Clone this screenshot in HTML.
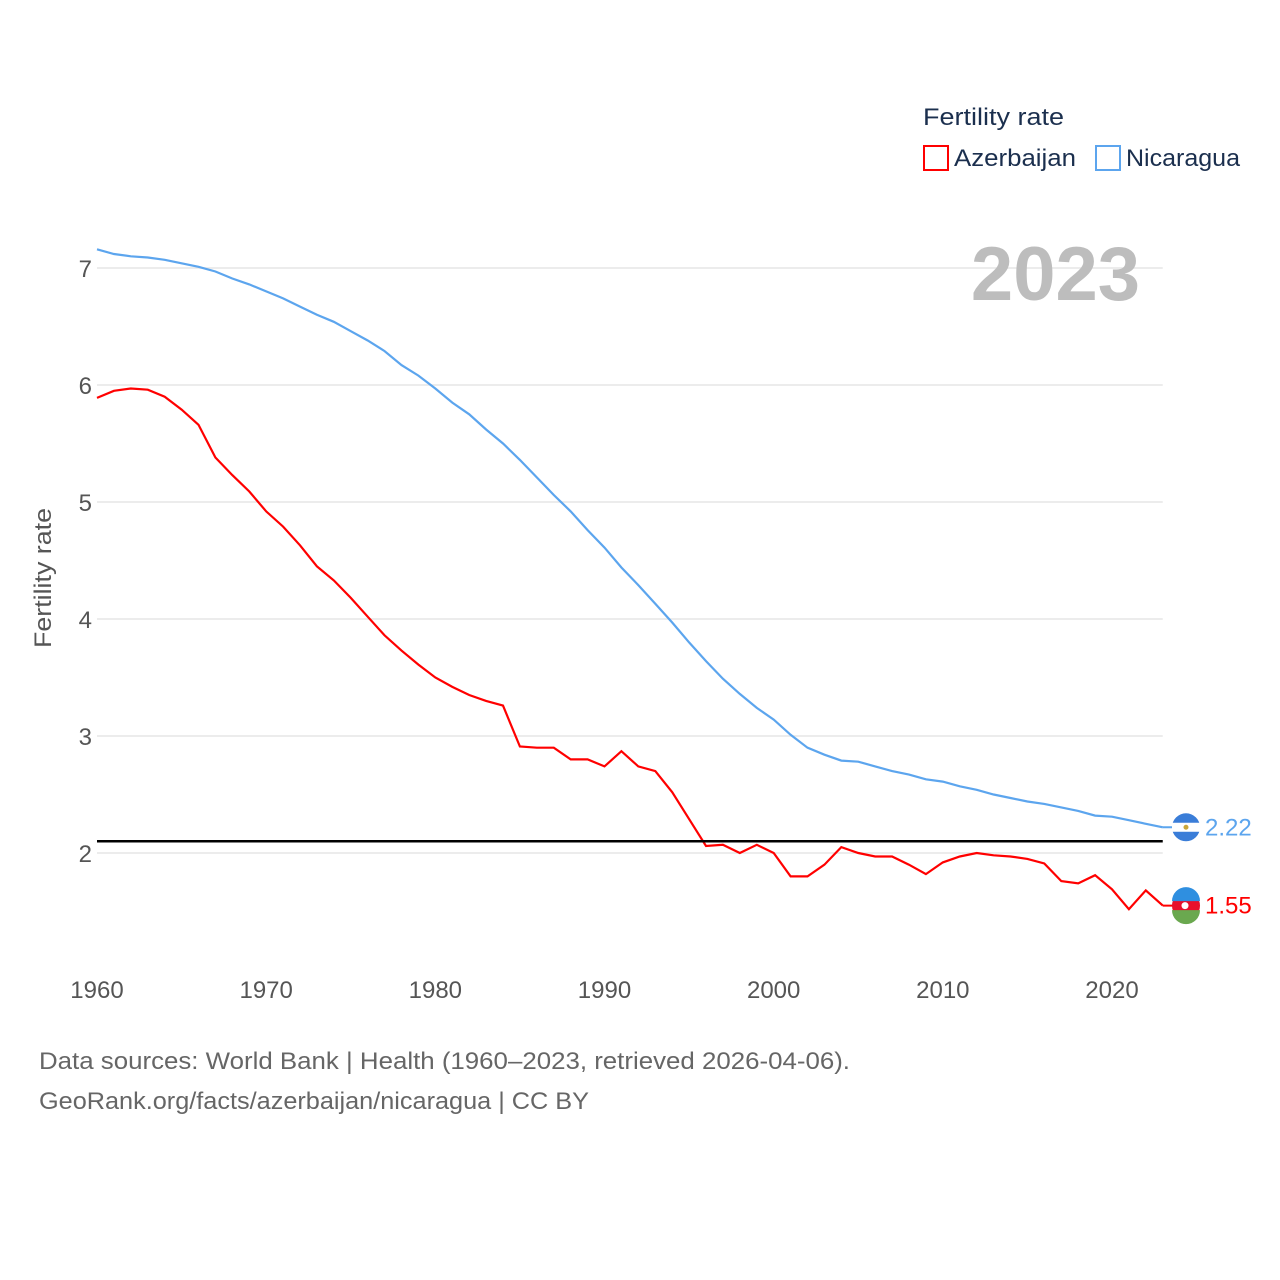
<!DOCTYPE html>
<html><head><meta charset="utf-8"><style>
html,body{margin:0;padding:0;background:#fff;}
svg{display:block;font-family:"Liberation Sans",sans-serif;}
</style></head><body>
<svg id="chart" width="1280" height="1280" viewBox="0 0 1280 1280">
<g id="grid"></g>
<g id="yticks"></g>
<g id="xticks"></g>
<text transform="translate(51,578) rotate(-90)" text-anchor="middle" font-size="24" fill="#555" textLength="140" lengthAdjust="spacingAndGlyphs">Fertility rate</text>
<text x="1140" y="300" text-anchor="end" font-size="76" font-weight="bold" fill="#bdbdbd">2023</text>
<g id="series"></g>
<line id="refline" stroke="#000" stroke-width="2.5"/>
<g>
<text x="923" y="125" font-size="24" fill="#1b2f4e" textLength="141" lengthAdjust="spacingAndGlyphs">Fertility rate</text>
<g><rect x="924" y="146" width="24" height="24" fill="none" stroke="#ff0000" stroke-width="2"/><text x="954" y="166" font-size="24" fill="#1b2f4e" textLength="122" lengthAdjust="spacingAndGlyphs">Azerbaijan</text></g>
<g><rect x="1096" y="146" width="24" height="24" fill="none" stroke="#5ca5ee" stroke-width="2"/><text x="1126" y="166" font-size="24" fill="#1b2f4e" textLength="114" lengthAdjust="spacingAndGlyphs">Nicaragua</text></g>
</g>
<g id="ends"></g>
<text x="39" y="1069" font-size="24" fill="#666" textLength="811" lengthAdjust="spacingAndGlyphs">Data sources: World Bank | Health (1960–2023, retrieved 2026-04-06).</text>
<text x="39" y="1109" font-size="24" fill="#666" textLength="550" lengthAdjust="spacingAndGlyphs">GeoRank.org/facts/azerbaijan/nicaragua | CC BY</text>
</svg>
<script>
const years = [];
for (let y = 1960; y <= 2023; y++) years.push(y);
const nicaragua = [7.16,7.12,7.10,7.09,7.07,7.04,7.01,6.97,6.91,6.86,6.80,6.74,6.67,6.60,6.54,6.46,6.38,6.29,6.17,6.08,5.97,5.85,5.75,5.62,5.50,5.36,5.21,5.06,4.92,4.76,4.61,4.44,4.29,4.13,3.97,3.80,3.64,3.49,3.36,3.24,3.14,3.01,2.90,2.84,2.79,2.78,2.74,2.70,2.67,2.63,2.61,2.57,2.54,2.50,2.47,2.44,2.42,2.39,2.36,2.32,2.31,2.28,2.25,2.22];
const azerbaijan = [5.89,5.95,5.97,5.96,5.90,5.79,5.66,5.38,5.23,5.09,4.92,4.79,4.63,4.45,4.33,4.18,4.02,3.86,3.73,3.61,3.50,3.42,3.35,3.30,3.26,2.91,2.90,2.90,2.80,2.80,2.74,2.87,2.74,2.70,2.52,2.29,2.06,2.07,2.00,2.07,2.00,1.80,1.80,1.90,2.05,2.00,1.97,1.97,1.90,1.82,1.92,1.97,2.00,1.98,1.97,1.95,1.91,1.76,1.74,1.81,1.69,1.52,1.68,1.55];
const yTicks = [2,3,4,5,6,7];
const xTicks = [1960,1970,1980,1990,2000,2010,2020];
const replacementRate = 2.1;

const NS = "http://www.w3.org/2000/svg";
const X0 = 97, X1 = 1162.75, Y0v = 2, Y0p = 853, PPU = 117;
const xs = y => X0 + (y - 1960) * (X1 - X0) / 63;
const ys = v => Y0p - (v - Y0v) * PPU;
function mk(tag, attrs, parent) { const e = document.createElementNS(NS, tag); for (const k in attrs) e.setAttribute(k, attrs[k]); parent.appendChild(e); return e; }

const grid = document.getElementById('grid'), yt = document.getElementById('yticks'), xt = document.getElementById('xticks');
yTicks.forEach(v => {
  const l = mk('line', {x1: X0, x2: X1, y1: ys(v), y2: ys(v), stroke: '#e6e6e6', 'stroke-width': 1.5}, grid);
  
  
  const t = mk('text', {x: 92, y: ys(v) + 9, 'text-anchor': 'end', 'font-size': 24, fill: '#555'}, yt);
  t.textContent = v;
  
  
});
xTicks.forEach(y => {
  const t = mk('text', {x: xs(y), y: 998, 'text-anchor': 'middle', 'font-size': 24, fill: '#555'}, xt);
  t.textContent = y;
  
  
});
const ref = document.getElementById('refline');
ref.setAttribute('x1', X0); ref.setAttribute('x2', X1);
ref.setAttribute('y1', ys(replacementRate)); ref.setAttribute('y2', ys(replacementRate));

const ser = document.getElementById('series');
[[nicaragua, '#5ca5ee', 'nicaragua'], [azerbaijan, '#ff0000', 'azerbaijan']].forEach(([d, c, n]) => {
  const p = mk('path', {d: d.map((v, i) => (i ? 'L' : 'M') + xs(years[i]).toFixed(1) + ',' + ys(v).toFixed(1)).join(''), fill: 'none', stroke: c, 'stroke-width': 2.2}, ser);
  
  
});

const ends = document.getElementById('ends');
const lastN = nicaragua[nicaragua.length - 1], lastA = azerbaijan[azerbaijan.length - 1];
let g = mk('g', {}, ends);


mk('line', {x1: X1, x2: 1186, y1: ys(lastN), y2: ys(lastN), stroke: '#5ca5ee', 'stroke-width': 2}, g);
mk('circle', {cx: 1186, cy: ys(lastN), r: 14, fill: '#3a7dd8'}, g);
mk('rect', {x: 1172, y: ys(lastN) - 4.5, width: 28, height: 9, fill: '#fff'}, g);
mk('circle', {cx: 1186, cy: ys(lastN), r: 2.5, fill: '#c9a63a'}, g);
let t = mk('text', {x: 1205, y: ys(lastN) + 8, 'font-size': 24, fill: '#5ca5ee'}, ends);
t.textContent = lastN.toFixed(2);


g = mk('g', {}, ends);


mk('line', {x1: X1, x2: 1186, y1: ys(lastA), y2: ys(lastA), stroke: '#ff0000', 'stroke-width': 2}, g);
mk('circle', {cx: 1186, cy: ys(lastA), r: 14, fill: '#e8102c'}, g);
mk('path', {d: `M1172,${ys(lastA)-4.5} A14,14 0 0 1 1200,${ys(lastA)-4.5} Z`, fill: '#2f8fe0'}, g);
mk('path', {d: `M1172,${ys(lastA)+4.5} A14,14 0 0 0 1200,${ys(lastA)+4.5} Z`, fill: '#6aa84f'}, g);
mk('circle', {cx: 1185, cy: ys(lastA), r: 3.5, fill: '#fff'}, g);
t = mk('text', {x: 1205, y: ys(lastA) + 8, 'font-size': 24, fill: '#ff0000'}, ends);
t.textContent = lastA.toFixed(2);


</script>
</body></html>
